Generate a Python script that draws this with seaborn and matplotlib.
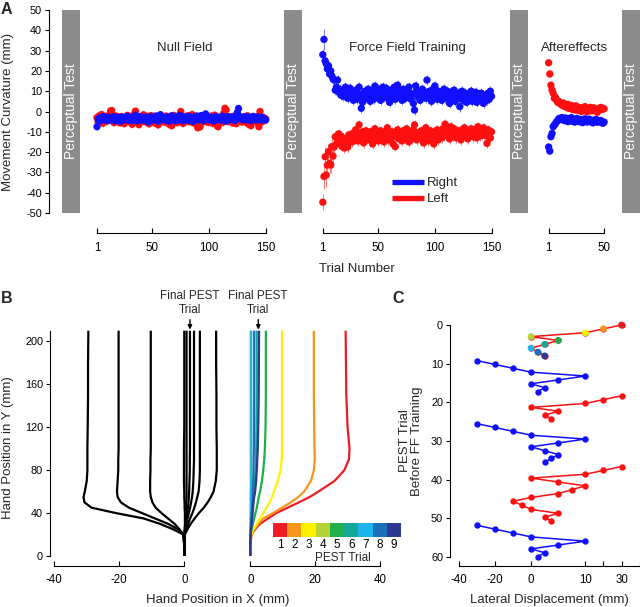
import numpy as np
import pandas as pd
import matplotlib
matplotlib.use("Agg")
import matplotlib.pyplot as plt
import seaborn as sns
from matplotlib.lines import Line2D
from matplotlib.colors import ListedColormap

# ------------------------------------------------------------------ data
# Panel A : movement curvature (mm) per trial
NULL_RIGHT = [-7.5, -4.0, -3.2, -4.5, -3.0, -3.8, -2.5, -4.2, -3.6, -3.0,
              -4.4, -2.8, -3.5, -4.0, -3.1, -2.6, -4.6, -3.3, -3.9, -2.9,
              -3.4, -4.8, -2.7, -3.6, -4.1, -3.0, -3.7, -2.4, -4.3, -3.5,
              -3.1, -4.5, -2.9, -3.8, -1.8, -3.4, -4.6, -3.0, -2.5, -3.9,
              -4.2, -3.3, -2.8, -4.0, -3.6, -5.2, -3.1, -2.6, -4.4, -3.7,
              -3.0, -4.1, -2.2, -3.5, -4.7, -3.2, -1.6, -3.8, -4.0, -2.9,
              -3.6, -4.3, -2.7, -3.3, -4.8, -3.0, -2.1, -3.9, -3.4, -4.5,
              -2.8, -3.7, -4.2, -1.9, -3.5, -3.1, -4.6, -2.6, -3.8, -4.0,
              -3.2, -2.4, -4.4, -3.6, -3.0, -4.9, -2.7, -3.4, -2.2, -3.9,
              -4.1, -3.3, -2.0, -3.7, -4.5, -2.6, -1.2, -3.5, -3.0, -4.2,
              -2.9, -3.8, -3.2, -4.6, -2.5, -3.4, -4.0, -2.8, -3.6, -3.1,
              -4.3, -2.3, -3.9, -3.0, -4.7, -2.6, -3.5, -3.2, -4.1, -2.7,
              -3.8, -3.0, -4.4, -2.2, -0.5, 1.5, -3.1, -3.6, -2.9, -4.0,
              -3.3, -2.5, -4.2, -3.7, -2.8, -3.4, -4.5, -3.0, -2.4, -3.9,
              -3.2, -4.1, -2.7, -3.6, -3.0, -4.3, -2.9, -3.5, -3.8, -4.2]
NULL_LEFT = [-3.0, -5.2, -2.1, -4.6, -1.5, -5.8, -3.3, -2.4, -4.9, -3.7,
             -2.0, -4.4, 0.3, 0.5, -1.8, -5.5, -3.6, -2.2, -4.8, -3.0,
             -5.6, -2.5, -4.1, -3.4, -6.0, -2.8, -4.5, -1.9, -5.1, -3.2,
             -2.6, -6.3, -4.0, -1.2, 0.2, -3.1, -5.4, -6.5, -2.7, -4.3,
             -3.5, -1.6, -5.0, -3.9, -2.3, -4.7, -6.1, -3.0, -2.0, -4.4,
             -3.3, -5.7, -2.6, -4.1, -6.6, -3.8, -1.7, -4.9, -2.9, -3.6,
             -5.3, -2.2, -4.0, -3.1, -6.4, -2.5, -7.0, -3.7, -1.9, -4.6,
             -3.0, -5.5, -2.4, -4.2, 0.0, -3.4, -5.9, -2.7, -4.8, -3.2,
             -2.1, -5.0, -3.8, -4.4, -1.5, -5.6, -2.9, -4.0, -6.2, -8.0,
             -7.2, -7.6, -3.3, -2.0, -5.1, -3.6, -4.7, -2.6, -5.4, -3.0,
             -4.3, -2.2, -5.8, -3.5, -1.8, -4.9, -7.0, -7.5, -2.8, -4.1,
             -3.2, -5.3, -0.8, 1.6, 0.8, -3.9, -5.0, -2.5, -4.6, -3.3,
             -5.7, -2.3, -4.2, -6.0, -3.1, -1.9, -4.8, -3.6, -5.2, -2.7,
             -4.4, -3.0, -5.5, -2.1, -6.3, -4.0, -7.0, -3.4, -2.6, -4.7,
             -3.1, -5.1, -2.4, -7.5, 0.0, -3.8, -5.0, -2.9, -4.3, -3.6]
FF_RIGHT = [28.0, 35.5, 25.0, 23.5, 21.0, 22.5, 18.5, 20.0, 17.5, 16.0,
            15.5, 10.5, 12.0, 15.5, 9.5, 11.0, 8.0, 10.5, 7.5, 9.0,
            12.0, 8.5, 6.5, 10.0, 11.5, 7.0, 9.5, 5.5, 8.0, 10.5,
            6.0, 9.0, 12.0, 7.5, 1.6, 4.5, 8.5, 10.0, 6.5, 9.5,
            11.0, 7.0, 5.0, 8.5, 10.5, 6.0, 12.5, 9.0, 7.5, 11.0,
            8.0, 5.5, 10.0, 12.0, 7.0, 9.0, 11.5, 6.5, 8.5, 4.5,
            10.5, 7.5, 9.0, 12.0, 6.0, 8.0, 13.0, 10.5, 7.0, 9.5,
            5.5, 11.0, 8.5, 6.5, 10.0, 7.5, 12.0, 9.0, 6.0, 8.5,
            4.0, 0.7, 12.6, 10.5, 7.0, 9.0, 5.5, 8.0, 11.0, 7.5,
            9.5, 6.5, 15.5, 8.5, 10.0, 7.0, 5.0, 9.0, 11.5, 12.6,
            8.0, 6.0, 10.0, 7.5, 9.0, 5.5, 8.5, 11.0, 6.5, 8.0,
            10.0, 7.0, 4.0, 9.5, 6.0, 8.5, 10.5, 5.0, 7.5, 9.0,
            6.5, 2.4, 8.0, 10.0, 5.5, 7.0, 9.0, 4.5, 8.5, 6.0,
            7.5, 10.0, 5.0, 8.0, 6.5, 9.5, 4.5, 7.0, 8.5, 5.5,
            9.0, 6.5, 4.0, 8.0, 7.0, 5.5, 9.0, 6.0, 10.0, 7.5]
FF_LEFT = [-44.7, -32.0, -22.3, -31.3, -26.4, -19.8, -25.5, -26.4, -17.3, -22.0,
           -17.5, -12.4, -16.0, -13.5, -11.0, -14.5, -12.0, -17.3, -15.5, -18.0,
           -16.5, -13.0, -17.5, -11.5, -14.0, -12.5, -15.0, -10.5, -13.5, -9.0,
           -12.0, -14.5, -6.6, -11.0, -13.0, -10.0, -15.5, -12.5, -9.5, -13.5,
           -11.5, -14.0, -10.0, -12.5, -16.0, -11.0, -8.5, -13.0, -10.5, -14.5,
           -12.0, -9.5, -13.5, -11.0, -15.0, -10.0, -12.5, -8.0, -14.0, -11.5,
           -13.0, -10.0, -16.0, -12.0, -17.3, -11.0, -9.0, -13.5, -10.5, -12.0,
           -14.5, -9.5, -11.5, -13.0, -8.5, -12.5, -15.0, -10.0, -11.0, -13.5,
           -9.0, -6.6, -12.0, -14.0, -10.5, -11.5, -13.0, -9.5, -12.5, -15.5,
           -10.0, -8.0, -12.0, -14.5, -11.0, -9.5, -13.0, -10.5, -16.0, -11.5,
           -12.5, -9.0, -14.0, -10.0, -11.5, -13.0, -8.5, -12.0, -6.2, -10.5,
           -11.0, -9.0, -13.5, -7.5, -10.0, -12.0, -8.5, -11.5, -13.0, -9.5,
           -10.5, -12.5, -14.0, -9.0, -11.0, -8.0, -12.0, -10.5, -13.5, -9.5,
           -11.5, -8.5, -10.0, -12.5, -9.0, -11.0, -13.0, -7.5, -10.5, -12.0,
           -9.5, -11.5, -8.0, -10.5, -12.0, -15.7, -9.0, -11.0, -13.0, -10.0]
AE_RIGHT = [-17.5, -19.5, -12.4, -10.8, -7.5, -6.6, -6.0, -5.0, -4.5, -3.5,
            -3.3, -4.0, -3.0, -3.8, -4.5, -3.2, -4.0, -5.0, -3.6, -4.4,
            -3.0, -4.8, -3.8, -5.2, -4.1, -3.4, -4.6, -5.0, -3.9, -4.3,
            -5.5, -4.0, -3.6, -4.8, -5.2, -4.4, -3.8, -5.0, -4.5, -5.6,
            -4.2, -4.9, -3.9, -5.3, -4.6, -5.0, -4.4, -5.5, -5.8, -5.2]
AE_LEFT = [24.0, 18.5, 13.0, 10.6, 9.0, 6.5, 7.0, 5.5, 4.5, 5.0,
           4.0, 3.5, 3.0, 4.2, 2.5, 3.0, 2.0, 3.5, 1.5, 2.5,
           3.0, 1.0, 2.2, 0.8, 2.8, 1.5, 0.5, 2.0, 1.2, 0.0,
           1.8, 0.6, 2.4, 1.0, -0.2, 1.5, 0.8, 2.0, 0.3, 1.2,
           1.8, 0.5, 1.0, -0.4, 1.4, 0.7, 2.0, 1.1, 1.6, 1.3]
NULL_SEM = 1.6
FF_SEM_EARLY_RIGHT = [3.0, 5.0, 4.0, 3.5, 3.0, 3.0, 2.5, 2.5, 2.5, 2.5, 2.5, 2.5]
FF_SEM_EARLY_LEFT = [4.0, 6.0, 5.0, 6.0, 5.0, 4.0, 5.0, 4.0, 4.0, 3.5, 3.5, 3.0]
FF_SEM = 2.4
AE_SEM = 1.3
PHASE_TICKS_150 = [1, 50, 100, 150]
PHASE_TICKS_50 = [1, 50]

# Panel B : hand paths (x in mm at given y in mm)
B_Y = [0, 10, 20, 25, 30, 35, 40, 45, 50, 55, 60, 70, 80, 90, 100, 120, 150, 180, 210]
NF_PATH_1 = [0, 0, -0.3, -3.5, -7.5, -12.5, -21.0, -28.5, -30.7, -31.0, -30.6, -30.0, -29.8, -29.8, -29.8, -29.7, -29.6, -29.6, -29.5]
NF_PATH_2 = [0, 0, -0.3, -2.0, -5.0, -9.0, -13.0, -17.0, -19.5, -20.5, -20.7, -20.5, -20.3, -20.3, -20.2, -20.2, -20.2, -20.2, -20.2]
NF_PATH_3 = [0, 0, -0.2, -1.5, -3.0, -5.0, -7.0, -8.8, -9.8, -10.3, -10.5, -10.5, -10.4, -10.4, -10.3, -10.3, -10.3, -10.3, -10.3]
NF_PATH_4 = [0, 0, 0, 0.1, 0.2, 0.2, 0.2, 0.1, 0.1, 0.0, 0.0, -0.1, -0.1, -0.1, -0.1, 0.0, 0.0, 0.0, 0.0]
NF_PATH_5 = [0, 0, 0.2, 1.0, 2.0, 3.2, 4.5, 6.0, 7.2, 8.2, 9.0, 9.7, 10.0, 10.0, 10.0, 9.9, 9.9, 9.8, 9.8]
NF_PATH_6 = [0, 0, 0.1, 0.6, 1.2, 1.8, 2.5, 3.1, 3.6, 4.0, 4.4, 4.7, 4.8, 4.8, 4.8, 4.8, 4.8, 4.8, 4.8]
NF_PATH_7 = [0, 0, 0.1, 0.2, 0.3, 0.4, 0.5, 0.6, 0.6, 0.7, 0.7, 0.7, 0.7, 0.7, 0.7, 0.7, 0.7, 0.7, 0.7]
NF_PATH_8 = [0, 0, 0.1, 0.4, 0.7, 1.0, 1.4, 1.8, 2.1, 2.4, 2.6, 2.8, 2.9, 3.0, 3.0, 3.0, 3.0, 3.0, 3.0]
NF_PATH_9 = [0, 0, 0.1, 0.3, 0.5, 0.7, 0.9, 1.1, 1.3, 1.4, 1.5, 1.6, 1.7, 1.7, 1.75, 1.75, 1.75, 1.75, 1.75]
FF_PATH_1 = [0, 0, 0.4, 1.5, 3.0, 5.5, 8.0, 11.5, 15.0, 18.3, 21.0, 26.0, 29.0, 30.4, 30.6, 30.0, 29.6, 29.5, 29.4]
FF_PATH_2 = [0, 0, 0.3, 1.2, 2.5, 4.0, 7.0, 9.8, 12.5, 14.8, 16.6, 18.7, 19.6, 19.9, 19.8, 19.7, 19.6, 19.6, 19.6]
FF_PATH_3 = [0, 0, 0.3, 1.0, 2.0, 3.0, 4.0, 5.0, 6.0, 6.7, 7.3, 8.5, 9.3, 9.7, 9.8, 9.8, 9.8, 9.8, 9.8]
FF_PATH_4 = [0, 0, 0, 0.05, 0.1, 0.1, 0.1, 0.1, 0.1, 0.1, 0.1, 0.1, 0.1, 0.1, 0.1, 0.1, 0.1, 0.1, 0.1]
FF_PATH_5 = [0, 0, 0.1, 0.4, 0.8, 1.2, 1.6, 2.0, 2.3, 2.6, 3.0, 3.6, 4.0, 4.3, 4.5, 4.7, 4.8, 4.8, 4.8]
FF_PATH_6 = [0, 0, 0.1, 0.2, 0.35, 0.5, 0.6, 0.75, 0.9, 1.0, 1.2, 1.4, 1.6, 1.7, 1.8, 1.9, 2.0, 2.0, 2.0]
FF_PATH_7 = [0, 0, 0, 0.05, 0.1, 0.1, 0.15, 0.2, 0.2, 0.2, 0.25, 0.3, 0.3, 0.3, 0.3, 0.3, 0.3, 0.3, 0.3]
FF_PATH_8 = [0, 0, 0.05, 0.15, 0.25, 0.35, 0.45, 0.55, 0.65, 0.75, 0.8, 0.9, 1.0, 1.05, 1.1, 1.15, 1.2, 1.2, 1.2]
FF_PATH_9 = [0, 0, 0.1, 0.25, 0.4, 0.55, 0.7, 0.85, 1.0, 1.2, 1.5, 1.8, 2.0, 2.15, 2.3, 2.45, 2.6, 2.65, 2.7]
PEST_TRIALS = [1, 2, 3, 4, 5, 6, 7, 8, 9]
PEST_COLORS = ['#ed1c24', '#f7941d', '#fff200', '#b5d334', '#1faf4b',
               '#14a89a', '#1eb4ed', '#1d70b8', '#2b3990']
B_LEFT_TICKS = [-40, -20, 0]
B_RIGHT_TICKS = [0, 20, 40]
B_Y_TICKS = [0, 40, 80, 120, 160, 200]

# Panel C : PEST staircases (lateral displacement, trial index)
C_SEQ1_X = [30, 20, 10, 0, 5, 2.5, 0, 1.25, 2.5]
C_SEQ1_Y = [0, 1, 2, 3, 4, 5, 6, 7, 8]
C_SEQ2_X = [-30, -20, -10, 0, 10, 5, 0, 2.5, 1.25]
C_SEQ2_Y = [9.2, 10.2, 11.2, 12.2, 13.2, 14.2, 15.2, 16.2, 17.2]
C_SEQ3_X = [30, 20, 10, 0, 5, 2.5, 3.75]
C_SEQ3_Y = [18.3, 19.3, 20.3, 21.3, 22.3, 23.3, 24.3]
C_SEQ4_X = [-30, -20, -10, 0, 10, 5, 0, 2.5, 5, 3.75, 2.5]
C_SEQ4_Y = [25.5, 26.5, 27.5, 28.5, 29.5, 30.5, 31.5, 32.5, 33.5, 34.5, 35.5]
C_SEQ5_X = [30, 20, 10, 0, 5, 10, 7.5, 5, 0, -10, -5, 0, 5, 2.5, 3.75]
C_SEQ5_Y = [36.6, 37.6, 38.6, 39.6, 40.6, 41.6, 42.6, 43.6, 44.6, 45.6, 46.6, 47.7, 48.7, 49.7, 50.7]
C_SEQ6_X = [-30, -20, -10, 0, 10, 5, 0, 2.5, 1.25]
C_SEQ6_Y = [51.8, 52.8, 53.8, 54.8, 55.9, 56.9, 57.9, 58.9, 59.9]
C_X_TICKS = [-40, -20, 0, 10, 20, 30, 40]
C_X_TICKLABELS = ['-40', '-20', '0', '10', '', '30', '']
C_Y_TICKS = [0, 10, 20, 30, 40, 50, 60]

# ------------------------------------------------------------------ style
sns.set_style("ticks")
plt.rcParams['font.family'] = ['Liberation Sans', 'DejaVu Sans']
plt.rcParams['axes.unicode_minus'] = False
plt.rcParams['axes.linewidth'] = 0.8
plt.rcParams['xtick.major.width'] = 0.8
plt.rcParams['ytick.major.width'] = 0.8
plt.rcParams['xtick.color'] = 'black'
plt.rcParams['ytick.color'] = 'black'
plt.rcParams['axes.edgecolor'] = 'black'

W, H = 640, 607
YTICK_FS = 7.8
XTICK_FS = 8.3
LAB_FS = 9.5
BLUE = '#1010ff'
RED = '#ff1010'
GRAY = '#8c8c8c'

fig = plt.figure(figsize=(W / 100, H / 100), dpi=100)


def px_rect(l, t, r, b):
    return [l / W, 1 - b / H, (r - l) / W, (b - t) / H]


def ftext(x, y, s, **kw):
    fig.text(x / W, 1 - y / H, s, **kw)


# ------------------------------------------------------------------ Panel A
NULL_OFF, FF_OFF, AE_OFF = 0.0, 199.5, 399.0
frames = []
for dname, seqs in (('Left', (NULL_LEFT, FF_LEFT, AE_LEFT)),
                    ('Right', (NULL_RIGHT, FF_RIGHT, AE_RIGHT))):
    early = FF_SEM_EARLY_LEFT if dname == 'Left' else FF_SEM_EARLY_RIGHT
    sems = ([NULL_SEM] * len(seqs[0]),
            early + [FF_SEM] * (len(seqs[1]) - len(early)),
            [AE_SEM] * len(seqs[2]))
    for vals, off, sem in zip(seqs, (NULL_OFF, FF_OFF, AE_OFF), sems):
        trials = np.arange(1, len(vals) + 1)
        frames.append(pd.DataFrame({'pos': trials + off, 'curv': vals,
                                    'sem': sem, 'dir': dname}))
dfa = pd.concat(frames, ignore_index=True)

axA = fig.add_axes(px_rect(49, 10, 640, 213))
axA.patch.set_alpha(0)
axA.set_xlim(-41.4, 480.7)
axA.set_ylim(-50, 50)

for (a, b) in ((-29.9, -14.0), (166.2, 182.1), (365.8, 381.7), (464.8, 481.0)):
    axA.axvspan(a, b, color=GRAY, lw=0, zorder=1)
    axA.text((a + b) / 2, 0, 'Perceptual Test', rotation=90, color='white',
             ha='center', va='center', fontsize=10, zorder=2)

pal = {'Right': BLUE, 'Left': RED}
for dname in ('Left', 'Right'):
    sub = dfa[dfa['dir'] == dname]
    axA.errorbar(sub['pos'], sub['curv'], yerr=sub['sem'], fmt='none',
                 ecolor=pal[dname], elinewidth=0.7, alpha=0.55, zorder=2)
sns.scatterplot(data=dfa, x='pos', y='curv', hue='dir', palette=pal, s=28,
                linewidth=0, legend=False, ax=axA, zorder=3)
axA.set_xlabel('')
axA.set_ylabel('')
sns.despine(ax=axA, bottom=True)
axA.set_xticks([])
axA.set_yticks(range(-50, 51, 10))
axA.tick_params(axis='y', direction='out', length=3, pad=2, labelsize=YTICK_FS)

axA.legend(handles=[Line2D([], [], color=BLUE, lw=3.8, solid_capstyle='butt'),
                    Line2D([], [], color=RED, lw=3.8, solid_capstyle='butt')],
           labels=['Right', 'Left'], loc='upper left',
           bbox_to_anchor=(392 / W, 1 - 177 / H), bbox_transform=fig.transFigure,
           frameon=False, handlelength=2.4, handletextpad=0.25,
           labelspacing=0.28, borderpad=0, borderaxespad=0, fontsize=LAB_FS)

for (l, r, lim, ticks) in ((97, 265.7, (1, 150), PHASE_TICKS_150),
                           (322.8, 491.5, (1, 150), PHASE_TICKS_150),
                           (548.7, 604.2, (1, 50), PHASE_TICKS_50)):
    ax = fig.add_axes(px_rect(l, 223, r, 233))
    ax.patch.set_alpha(0)
    ax.set_xlim(*lim)
    ax.set_yticks([])
    ax.set_xticks(ticks)
    sns.despine(ax=ax, left=True)
    ax.tick_params(axis='x', direction='in', length=3.5, pad=6.5, labelsize=XTICK_FS)

ftext(8.5, 112, 'Movement Curvature (mm)', ha='center', va='center',
      rotation=90, fontsize=LAB_FS)
ftext(185, 48, 'Null Field', ha='center', va='center', fontsize=LAB_FS)
ftext(407, 48, 'Force Field Training', ha='center', va='center', fontsize=LAB_FS)
ftext(575, 48, 'Aftereffects', ha='center', va='center', fontsize=LAB_FS)
ftext(357, 269, 'Trial Number', ha='center', va='center', fontsize=LAB_FS)

# ------------------------------------------------------------------ Panel B
nf_paths = [NF_PATH_1, NF_PATH_2, NF_PATH_3, NF_PATH_4, NF_PATH_5,
            NF_PATH_6, NF_PATH_7, NF_PATH_8, NF_PATH_9]
ff_paths = [FF_PATH_1, FF_PATH_2, FF_PATH_3, FF_PATH_4, FF_PATH_5,
            FF_PATH_6, FF_PATH_7, FF_PATH_8, FF_PATH_9]
dfb_nf = pd.concat([pd.DataFrame({'x': p, 'y': B_Y, 'trial': str(i + 1)})
                    for i, p in enumerate(nf_paths)], ignore_index=True)
dfb_ff = pd.concat([pd.DataFrame({'x': p, 'y': B_Y, 'trial': str(i + 1)})
                    for i, p in enumerate(ff_paths)], ignore_index=True)

axBL = fig.add_axes(px_rect(50, 330.7, 224.9, 556))
axBR = fig.add_axes(px_rect(245, 330.7, 386.7, 556))
for ax in (axBL, axBR):
    ax.patch.set_alpha(0)

sns.lineplot(data=dfb_nf, x='x', y='y', hue='trial', sort=False, estimator=None,
             palette={str(t): 'black' for t in PEST_TRIALS}, lw=1.6,
             legend=False, ax=axBL)
sns.lineplot(data=dfb_ff, x='x', y='y', hue='trial', sort=False, estimator=None,
             palette={str(t): c for t, c in zip(PEST_TRIALS, PEST_COLORS)},
             lw=1.6, legend=False, ax=axBR)
for ax in (axBL, axBR):
    for ln in ax.lines:
        ln.set_clip_on(False)
        ln.set_solid_capstyle('butt')
    ax.set_ylim(0, 210)
    ax.set_xlabel('')
    ax.set_ylabel('')
axBL.set_xlim(-41.3, 12.5)
axBR.set_xlim(-1.63, 42.06)

sns.despine(ax=axBL)
axBL.spines['bottom'].set_position(('outward', 7.2))
axBL.spines['bottom'].set_bounds(-40, 0)
axBL.spines['left'].set_bounds(0, 210)
axBL.set_xticks(B_LEFT_TICKS)
axBL.set_yticks(B_Y_TICKS)
axBL.tick_params(axis='x', direction='in', length=3.5, pad=6, labelsize=XTICK_FS)
axBL.tick_params(axis='y', direction='out', length=3, pad=2, labelsize=YTICK_FS)

sns.despine(ax=axBR, left=True)
axBR.spines['bottom'].set_position(('outward', 7.2))
axBR.spines['bottom'].set_bounds(0, 40)
axBR.set_xticks(B_RIGHT_TICKS)
axBR.set_yticks([])
axBR.tick_params(axis='x', direction='in', length=3.5, pad=6, labelsize=XTICK_FS)

for ax, xd, xt in ((axBL, 1.75, 190), (axBR, 2.5, 258)):
    ax.annotate('Final PEST\nTrial', xy=(xd, 211), xycoords='data',
                xytext=(xt, H - 303), textcoords='figure pixels',
                ha='center', va='center', fontsize=8.5, linespacing=1.3,
                annotation_clip=False,
                arrowprops=dict(arrowstyle='-|>', color='black', lw=1.0,
                                shrinkA=0, shrinkB=0, mutation_scale=6))

cax = fig.add_axes(px_rect(273, 523, 401, 537))
sns.heatmap(np.array([PEST_TRIALS]), cmap=ListedColormap(PEST_COLORS),
            vmin=0.5, vmax=9.5, cbar=False, ax=cax,
            xticklabels=PEST_TRIALS, yticklabels=False, linewidths=0)
cax.tick_params(axis='x', length=0, pad=1.5, labelsize=8.5, labelrotation=0)
cax.set_xlabel('PEST Trial', fontsize=8.5, labelpad=0)
cax.xaxis.set_label_coords((343 - 273) / (401 - 273), -1.05)

ftext(218, 600, 'Hand Position in X (mm)', ha='center', va='center', fontsize=LAB_FS)
ftext(8.5, 448, 'Hand Position in Y (mm)', ha='center', va='center',
      rotation=90, fontsize=LAB_FS)

# ------------------------------------------------------------------ Panel C
def c_fwd(x):
    x = np.asarray(x, dtype=float)
    return np.where(x <= 0, x, np.where(x <= 10, 3 * x, x + 20))


def c_inv(f):
    f = np.asarray(f, dtype=float)
    return np.where(f <= 0, f, np.where(f <= 30, f / 3, f - 20))


seqs = [(C_SEQ1_X, C_SEQ1_Y, 'red'), (C_SEQ2_X, C_SEQ2_Y, 'blue'),
        (C_SEQ3_X, C_SEQ3_Y, 'red'), (C_SEQ4_X, C_SEQ4_Y, 'blue'),
        (C_SEQ5_X, C_SEQ5_Y, 'red'), (C_SEQ6_X, C_SEQ6_Y, 'blue')]
dfc = pd.concat([pd.DataFrame({'disp': sx, 'trial': sy, 'seq': f's{i}'})
                 for i, (sx, sy, _) in enumerate(seqs)], ignore_index=True)
cpal = {f's{i}': (BLUE if c == 'blue' else RED) for i, (_, _, c) in enumerate(seqs)}

axC = fig.add_axes(px_rect(450, 325, 640, 557))
axC.patch.set_alpha(0)
axC.set_xscale('function', functions=(c_fwd, c_inv))
sns.lineplot(data=dfc, x='disp', y='trial', hue='seq', palette=cpal, sort=False,
             estimator=None, lw=1.1, marker='o', markersize=4.6,
             markeredgewidth=0, legend=False, ax=axC)
sns.scatterplot(x=C_SEQ1_X, y=C_SEQ1_Y, hue=[str(t) for t in PEST_TRIALS],
                palette={str(t): c for t, c in zip(PEST_TRIALS, PEST_COLORS)},
                s=24, linewidth=0, legend=False, ax=axC, zorder=4)
for ln in axC.lines:
    ln.set_clip_on(False)
for coll in axC.collections:
    coll.set_clip_on(False)
axC.set_xlim(-44.8, 40.2)
axC.set_ylim(60, 0)
sns.despine(ax=axC)
axC.spines['bottom'].set_position(('outward', 6.5))
axC.spines['bottom'].set_bounds(-40, 40)
axC.spines['left'].set_bounds(0, 60)
axC.set_xticks(C_X_TICKS)
axC.set_xticklabels(C_X_TICKLABELS)
axC.set_yticks(C_Y_TICKS)
axC.tick_params(axis='x', direction='in', length=3.5, pad=6, labelsize=XTICK_FS)
axC.tick_params(axis='y', direction='out', length=3, pad=2, labelsize=YTICK_FS)
axC.set_xlabel('')
axC.set_ylabel('')
ftext(549, 600, 'Lateral Displacement (mm)', ha='center', va='center', fontsize=LAB_FS)
ftext(411, 441, 'PEST Trial\nBefore FF Training', ha='center', va='center',
      rotation=90, fontsize=LAB_FS, linespacing=1.05)

# ------------------------------------------------------------------ panel letters
for letter, x, y in (('A', 1, 2), ('B', 1, 291), ('C', 392, 291)):
    ftext(x, y, letter, ha='left', va='top', fontsize=11.5, fontweight='bold')

fig.savefig('out.png', dpi=100)
